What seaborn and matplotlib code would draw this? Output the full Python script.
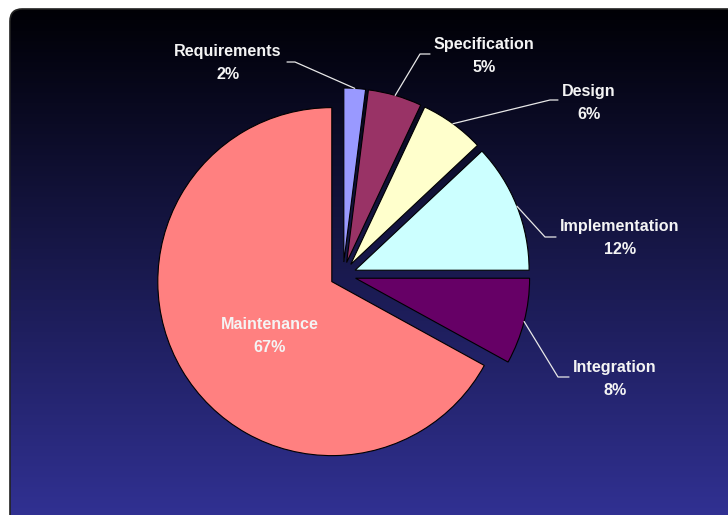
import numpy as np
import matplotlib
matplotlib.use("Agg")
import matplotlib.pyplot as plt
from matplotlib.patches import FancyBboxPatch
import seaborn as sns

sns.set_theme(style="white")
plt.rcParams['font.family'] = ['Liberation Sans', 'DejaVu Sans']

# ---- data ----
phases = ["Requirements", "Specification", "Design", "Implementation", "Integration", "Maintenance"]
shares = [2, 5, 6, 12, 8, 67]
colors = ["#9999ff", "#993366", "#ffffcc", "#ccffff", "#660066", "#ff8080"]

# ---- layout (pixel positions on a 728x515 canvas) ----
W, H = 728, 515
CX, CY, R = 343, 275, 174
EXPLODE_PX = 13

def px(x, y):
    return (x - CX) / R, (CY - y) / R

# label centre, elbow points in pixels; None for inside label
label_pos = {
    "Requirements": ((228, 63), [(287, 62), (295, 62)]),
    "Specification": ((484, 56), [(430, 54), (420, 54)]),
    "Design": ((589, 103), [(558, 100), (550, 100)]),
    "Implementation": ((620, 238), [(556, 237), (545, 237)]),
    "Integration": ((615, 379), [(569, 377), (558, 377)]),
    "Maintenance": ((270, 336), None),
}

fig = plt.figure(figsize=(W / 100, H / 100), dpi=100)
fig.patch.set_facecolor("white")
ax = fig.add_axes([0, 0, 1, 1])
x0, y0 = px(0, H)
x1, y1 = px(W, 0)
ax.set_xlim(x0, x1)
ax.set_ylim(y0, y1)
ax.set_aspect("equal")
ax.axis("off")

# background: rounded panel with vertical gradient
bx0, by0 = px(10, 540)
bx1, by1 = px(760, 9)
panel = FancyBboxPatch((bx0, by0), bx1 - bx0, by1 - by0,
                       boxstyle="round,pad=0,rounding_size=0.07",
                       facecolor="none", edgecolor="#222222", lw=1.2, zorder=1)
ax.add_patch(panel)
grad = np.linspace(0, 1, 256).reshape(-1, 1)
top = np.array([0.0, 0.0, 0.02])
bot = np.array([51, 51, 153]) / 255
img = top + (bot - top) * grad[..., None] * np.ones((1, 1, 3))
im = ax.imshow(img, extent=(bx0, bx1, by0, by1), origin="upper",
               aspect="auto", zorder=0.5, interpolation="bilinear")
im.set_clip_path(panel)

# pie
wedges, _ = ax.pie(shares, colors=colors, startangle=90, counterclock=False,
                   radius=1, center=(0, 0),
                   explode=[EXPLODE_PX / R] * len(shares),
                   wedgeprops=dict(edgecolor="black", linewidth=0.8))
for w in wedges:
    w.set_zorder(3)

ax.set_xlim(x0, x1)
ax.set_ylim(y0, y1)

total = sum(shares)
start = 90.0
for name, val, w in zip(phases, shares, wedges):
    ang = start - 360 * val / total / 2
    start -= 360 * val / total
    cx, cy = w.center
    rad = np.deg2rad(ang)
    ax_, ay_ = cx + np.cos(rad), cy + np.sin(rad)
    (lx, ly), elbow = label_pos[name]
    tx, ty = px(lx, ly)
    ax.text(tx, ty, f"{name}\n{val}%", ha="center", va="center",
            color="#f4f4f4", fontsize=11.6, fontweight="bold",
            linespacing=1.7, zorder=5)
    if elbow is not None:
        pts = [px(*p) for p in elbow] + [(ax_, ay_)]
        xs, ys = zip(*pts)
        ax.plot(xs, ys, color="#e8e8e8", lw=0.9, zorder=4)

fig.savefig("out.png", dpi=100, facecolor="white")
